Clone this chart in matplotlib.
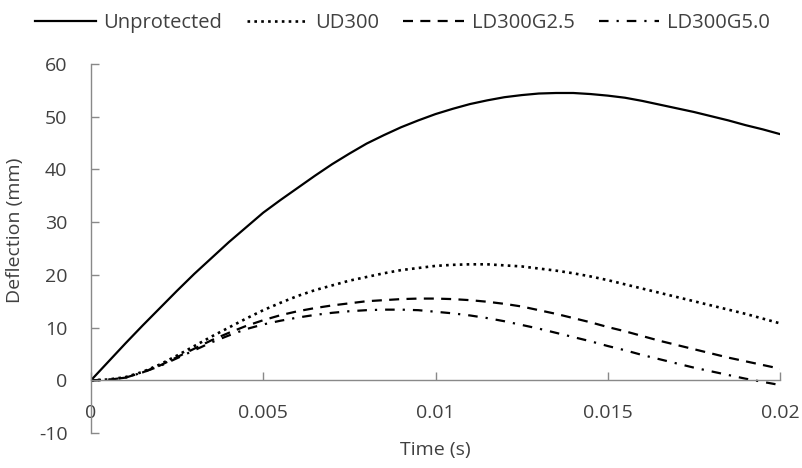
import matplotlib
matplotlib.use("Agg")
import matplotlib.pyplot as plt

plt.rcParams['font.family'] = ['Open Sans', 'DejaVu Sans']
plt.rcParams['axes.unicode_minus'] = False

# time in s, sampled every 0.5 ms
time = [0, 0.0005, 0.001, 0.0015, 0.002, 0.0025, 0.003, 0.0035, 0.004, 0.0045, 0.005,
        0.0055, 0.006, 0.0065, 0.007, 0.0075, 0.008, 0.0085, 0.009, 0.0095, 0.010,
        0.0105, 0.011, 0.0115, 0.012, 0.0125, 0.013, 0.0135, 0.014, 0.0145, 0.015,
        0.0155, 0.016, 0.0165, 0.017, 0.0175, 0.018, 0.0185, 0.019, 0.0195, 0.020]
unprotected = [0, 3.5, 7.0, 10.4, 13.7, 17.0, 20.2, 23.2, 26.2, 29.0, 31.8,
               34.2, 36.5, 38.8, 41.0, 43.0, 44.9, 46.5, 48.0, 49.3, 50.5,
               51.5, 52.4, 53.1, 53.7, 54.1, 54.4, 54.5, 54.5, 54.3, 54.0,
               53.6, 53.0, 52.3, 51.6, 50.9, 50.1, 49.3, 48.4, 47.6, 46.7]
ud300 = [0, 0.15, 0.6, 1.6, 3.0, 4.7, 6.5, 8.3, 10.0, 11.7, 13.3,
         14.7, 16.0, 17.1, 18.0, 18.9, 19.6, 20.3, 20.9, 21.3, 21.7,
         21.9, 22.0, 22.0, 21.8, 21.6, 21.2, 20.8, 20.3, 19.7, 19.0,
         18.2, 17.4, 16.6, 15.8, 15.0, 14.2, 13.4, 12.6, 11.7, 10.8]
ld300g25 = [0, 0.1, 0.5, 1.5, 2.8, 4.4, 6.0, 7.6, 9.0, 10.3, 11.4,
            12.35, 13.1, 13.7, 14.2, 14.6, 15.0, 15.2, 15.4, 15.5, 15.5,
            15.4, 15.2, 14.9, 14.5, 14.0, 13.3, 12.6, 11.8, 11.0, 10.1,
            9.3, 8.4, 7.5, 6.7, 5.9, 5.1, 4.3, 3.6, 2.9, 2.2]
ld300g50 = [0, 0.1, 0.5, 1.5, 2.7, 4.2, 5.7, 7.2, 8.5, 9.7, 10.6,
            11.3, 11.9, 12.4, 12.8, 13.1, 13.3, 13.4, 13.4, 13.3, 13.0,
            12.7, 12.3, 11.8, 11.2, 10.5, 9.8, 9.0, 8.2, 7.4, 6.5,
            5.7, 4.8, 4.0, 3.2, 2.4, 1.7, 1.0, 0.3, -0.3, -0.9]

labels = ["Unprotected", "UD300", "LD300G2.5", "LD300G5.0"]
xticks = [0, 0.005, 0.01, 0.015, 0.02]
xticklabels = ["0", "0.005", "0.01", "0.015", "0.02"]
yticks = [-10, 0, 10, 20, 30, 40, 50, 60]

txt = '#404040'
axcol = '#898989'

fig = plt.figure(figsize=(8.02, 4.68), dpi=100)
ax = fig.add_axes([91/802, 1-433/468, 689/802, 369/468])

lw = 1.6
kw = dict(color='black', solid_joinstyle='round', dash_joinstyle='round')
ax.plot(time, unprotected, lw=lw, linestyle='-', label=labels[0], **kw)
ax.plot(time, ud300, lw=lw+0.3, linestyle=(0, (1, 1.6)), label=labels[1], **kw)
ax.plot(time, ld300g25, lw=lw, linestyle=(0, (4.5, 3.3)), label=labels[2], **kw)
ax.plot(time, ld300g50, lw=lw, linestyle=(0, (4.3, 3.6, 1, 3.6)), label=labels[3], **kw)

ax.set_xlim(0, 0.02)
ax.set_ylim(-10, 60)
ax.spines['top'].set_visible(False)
ax.spines['right'].set_visible(False)
ax.spines['bottom'].set_position(('data', 0))
for s in ['left', 'bottom']:
    ax.spines[s].set_color(axcol)
    ax.spines[s].set_linewidth(1.0)

ax.set_xticks(xticks)
ax.set_xticklabels(xticklabels)
ax.set_yticks(yticks)
ax.tick_params(axis='both', direction='in', length=6, width=1.0, color=axcol,
               labelcolor=txt, labelsize=14)
ax.tick_params(axis='x', pad=17)
ax.tick_params(axis='y', pad=17)

ax.set_xlabel("Time (s)", fontsize=14, color=txt)
ax.xaxis.set_label_coords(0.5, -0.046)
ax.xaxis.label.set_va('center')
ax.set_ylabel("Deflection (mm)", fontsize=14, color=txt)
ax.yaxis.set_label_coords(-0.11, 0.55)
ax.yaxis.label.set_va('center')

fig.legend(loc='upper center', bbox_to_anchor=(0.502, 1.01), ncol=4, frameon=False,
           fontsize=14.5, handlelength=3.0, handletextpad=0.4, columnspacing=1.2,
           labelcolor=txt)

plt.savefig("out.png", dpi=100)
